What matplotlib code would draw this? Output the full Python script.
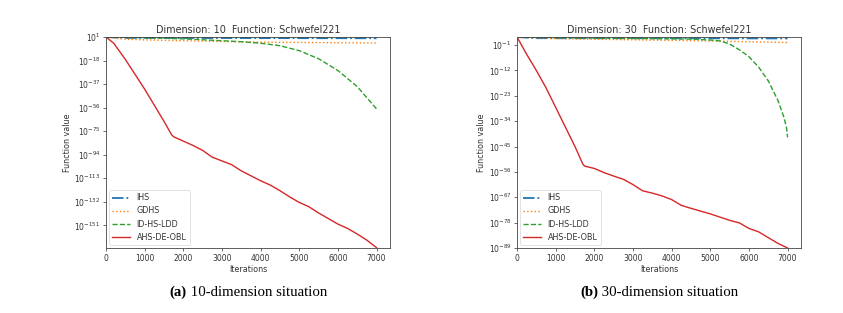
import numpy as np
import matplotlib
matplotlib.use("Agg")
import matplotlib.pyplot as plt
from matplotlib.ticker import FixedLocator, NullLocator, LogFormatterSciNotation

# ---------------- data (log10 of function value) ----------------
# D = 10
it10_ihs = [0, 500, 7000]
ihs10 = [1.0, 0.3, 0.0]
it10_gdhs = [0, 250, 500, 1000, 2000, 3000, 4000, 5000, 6000, 7000]
gdhs10 = [1.0, 0.0, -0.8, -1.3, -2.0, -2.6, -3.1, -3.4, -3.6, -3.8]
it10_idhs = [0, 500, 1000, 1500, 2000, 2500, 3000, 3500, 4000, 4500, 5000, 5500, 6000, 6500, 7000]
idhs10 = [1.0, 0.8, 0.4, 0.0, -0.5, -1.2, -2.0, -2.8, -4.0, -6.0, -10.0, -16.5, -26.0, -39.0, -57.0]
it10_ahs = [0, 200, 500, 750, 1000, 1250, 1500, 1700, 1750, 2000, 2250, 2500, 2750,
            3000, 3250, 3500, 3750, 4000, 4250, 4500, 4750, 5000, 5250, 5500, 5750,
            6000, 6250, 6500, 6750, 7000]
ahs10 = [1.0, -4.0, -17.0, -29.0, -41.0, -54.0, -67.0, -78.0, -79.5, -83.0, -86.5,
         -90.5, -96.0, -99.0, -102.0, -107.0, -111.0, -115.0, -118.5, -123.0, -128.0,
         -132.5, -136.0, -141.0, -145.5, -150.0, -153.5, -158.0, -163.0, -169.0]

# D = 30
it30_ihs = [0, 500, 7000]
ihs30 = [2.5, 2.0, 1.9]
it30_gdhs = [0, 1000, 3000, 5000, 7000]
gdhs30 = [2.5, 1.8, 1.3, 0.8, 0.1]
it30_idhs = [0, 1000, 2000, 3000, 4000, 4500, 5000, 5250, 5500, 5750, 6000, 6250, 6500,
             6750, 6900, 6975, 7000]
idhs30 = [2.5, 2.3, 2.1, 1.9, 1.7, 1.6, 1.2, 0.8, -0.5, -3.0, -6.0, -10.5, -16.5,
          -25.0, -32.0, -37.0, -41.0]
it30_ahs = [0, 250, 500, 750, 1000, 1250, 1500, 1700, 1750, 2000, 2250, 2500, 2750,
            3000, 3250, 3500, 3750, 4000, 4250, 4500, 4750, 5000, 5250, 5500, 5750,
            6000, 6250, 6500, 6750, 7000]
ahs30 = [2.5, -5.0, -12.0, -19.5, -28.0, -36.5, -45.0, -52.5, -53.5, -54.5, -56.3, -57.8,
         -59.2, -61.5, -64.2, -65.2, -66.4, -68.0, -70.5, -71.8, -73.0, -74.2, -75.6,
         -77.0, -78.1, -80.5, -82.0, -84.5, -87.0, -89.0]

x_ticks = [0, 1000, 2000, 3000, 4000, 5000, 6000, 7000]
y_ticks10 = [1, -18, -37, -56, -75, -94, -113, -132, -151]
y_ticks30 = [-1, -12, -23, -34, -45, -56, -67, -78, -89]

names = ["IHS", "GDHS", "ID-HS-LDD", "AHS-DE-OBL"]
colors = ["#1f77b4", "#ff7f0e", "#2ca02c", "#d62728"]
styles = ["-.", ":", "--", "-"]
widths = [1.3, 1.0, 1.0, 1.0]

panels = [
    dict(title="Dimension: 10  Function: Schwefel221",
         series=[(it10_ihs, ihs10), (it10_gdhs, gdhs10), (it10_idhs, idhs10), (it10_ahs, ahs10)],
         yticks=y_ticks10, ylim=(-169.3, 1.0), caption=("(a)", " 10-dimension situation"),
         pos=[0.1257, 0.2077, 0.337, 0.674]),
    dict(title="Dimension: 30  Function: Schwefel221",
         series=[(it30_ihs, ihs30), (it30_gdhs, gdhs30), (it30_idhs, idhs30), (it30_ahs, ahs30)],
         yticks=y_ticks30, ylim=(-89.0, 2.5), caption=("(b)", " 30-dimension situation"),
         pos=[0.6133, 0.2077, 0.337, 0.674]),
]

tc = "#333333"
fig = plt.figure(figsize=(8.43, 3.13), dpi=100)

for p in panels:
    ax = fig.add_axes(p["pos"])
    for (xs, ys), n, c, s, w in zip(p["series"], names, colors, styles, widths):
        ax.plot(xs, 10.0 ** np.array(ys), color=c, linestyle=s, linewidth=w, label=n)
    ax.set_yscale("log")
    ax.set_xlim(0, 7350)
    ax.set_ylim(10.0 ** p["ylim"][0], 10.0 ** p["ylim"][1])
    ax.yaxis.set_major_locator(FixedLocator([10.0 ** t for t in p["yticks"]]))
    ax.yaxis.set_major_formatter(LogFormatterSciNotation())
    ax.yaxis.set_minor_locator(NullLocator())
    ax.set_xticks(x_ticks)
    ax.tick_params(labelsize=5.5, length=2, width=0.5, colors=tc, pad=2)
    for sp in ax.spines.values():
        sp.set_linewidth(0.6)
        sp.set_color("#444444")
    ax.set_title(p["title"], fontsize=6.9, color=tc, pad=3)
    ax.set_xlabel("Iterations", fontsize=5.8, color=tc, labelpad=2)
    ax.set_ylabel("Function value", fontsize=5.8, color=tc, labelpad=2)
    leg = ax.legend(loc="lower left", fontsize=5.8, frameon=True, borderaxespad=0.4,
                    handlelength=2.2, labelspacing=0.5)
    leg.get_frame().set_linewidth(0.5)
    for t in leg.get_texts():
        t.set_color(tc)
    # caption
    cx = p["pos"][0] + p["pos"][2] / 2
    bold, rest = p["caption"]
    t1 = fig.text(cx, 0.067, bold + rest, fontsize=10.7, family="Liberation Serif",
                  ha="center", va="center", color="white", alpha=0)
    fig.canvas.draw()
    bb = t1.get_window_extent()
    x0 = bb.x0 / fig.bbox.width
    tb = fig.text(x0, 0.067, bold, fontsize=10.7, family="Liberation Serif",
                  fontweight="bold", ha="left", va="center", color="black")
    fig.canvas.draw()
    bb2 = tb.get_window_extent()
    fig.text(bb2.x1 / fig.bbox.width, 0.067, rest, fontsize=10.7, family="Liberation Serif",
             ha="left", va="center", color="black")

fig.savefig("out.png", dpi=100)
